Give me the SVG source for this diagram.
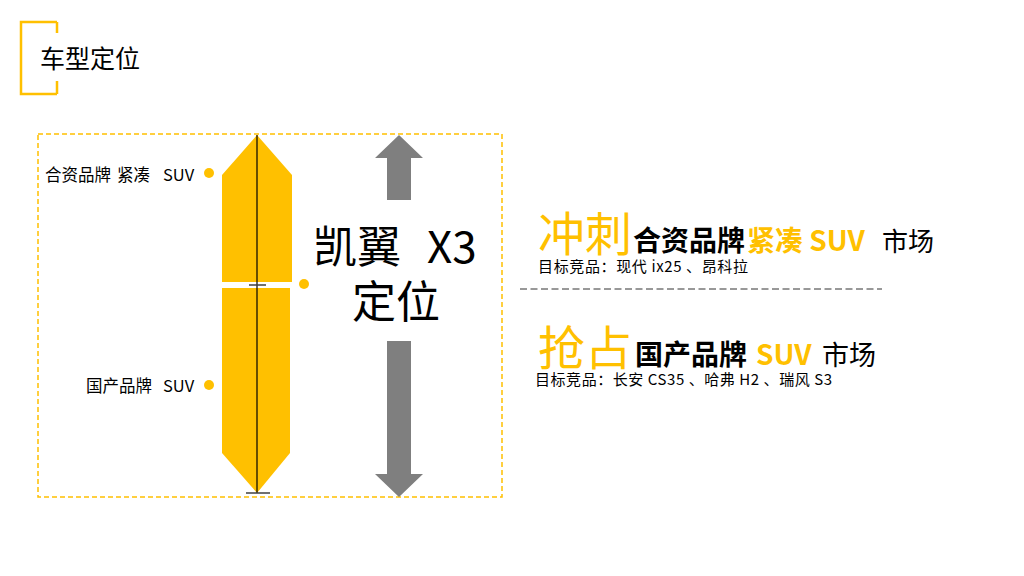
<svg xmlns="http://www.w3.org/2000/svg" width="1024" height="576" viewBox="0 0 1024 576">
<style>
text{font-family:"Noto Sans CJK SC","Microsoft YaHei",sans-serif;}
.y{fill:#FFC000;}
.k{fill:#000;}
.dot{fill:#FFC000;}
.arr{fill:#7F7F7F;}
</style>
<rect width="1024" height="576" fill="#fff"/>
<g id="title">
<path d="M57,22 H21 V94 H57 M57,22 V33 M57,94 V81" fill="none" stroke="#FFC000" stroke-width="2.5"/>
<text x="40" y="68" font-size="25" class="k">车型定位</text>
</g>
<g id="frame">
<rect x="38" y="134" width="464" height="363" fill="none" stroke="#FFC000" stroke-width="1.5" stroke-dasharray="5 3"/>
</g>
<g id="pillar">
<polygon points="257,135 292,175 292,282 222,282 222,175" fill="#FFC000"/>
<polygon points="222,288 290,288 290,453 257,493 222,453" fill="#FFC000"/>
<line x1="257" y1="135" x2="257" y2="493" stroke="#000" stroke-width="1.2"/>
<line x1="249" y1="285" x2="266" y2="285" stroke="#404040" stroke-width="1.5"/>
<line x1="246" y1="493" x2="270" y2="493" stroke="#404040" stroke-width="1.5"/>
</g>
<g id="label-jv">
<circle cx="209" cy="173" r="5" class="dot"/>
<text y="181" font-size="16.5" class="k"><tspan x="45">合资品牌</tspan><tspan x="117">紧凑</tspan><tspan x="163">SUV</tspan></text>
</g>
<g id="label-dom">
<circle cx="209" cy="385" r="5" class="dot"/>
<text y="392" font-size="16.5" class="k"><tspan x="86">国产品牌</tspan><tspan x="163">SUV</tspan></text>
</g>
<g id="center">
<circle cx="304" cy="284" r="5" class="dot"/>
<text font-size="44" class="k"><tspan x="313" y="263">凯翼</tspan><tspan x="427" y="263">X3</tspan><tspan x="352" y="318">定位</tspan></text>
</g>
<g id="arrows">
<polygon class="arr" points="399,135 423,158 411,158 411,200 387,200 387,158 375,158"/>
<polygon class="arr" points="387,341 411,341 411,474 423,474 399,497 375,474 387,474"/>
</g>
<g id="target1">
<text y="251"><tspan x="538" font-size="47" class="y">冲刺</tspan><tspan x="633" font-size="28" font-weight="bold" class="k">合资品牌</tspan><tspan x="747" font-size="28" font-weight="bold" class="y">紧凑 SUV</tspan><tspan x="882" font-size="26" class="k">市场</tspan></text>
<text x="538" y="272" font-size="15" class="k" textLength="210" lengthAdjust="spacing">目标竞品：现代 ix25 、昂科拉</text>
</g>
<g id="divider">
<line x1="520" y1="289" x2="882" y2="289" stroke="#333" stroke-width="1" stroke-dasharray="7 3.5"/>
</g>
<g id="target2">
<text y="365"><tspan x="538" font-size="47" class="y">抢占</tspan><tspan x="635" font-size="28" font-weight="bold" class="k">国产品牌</tspan><tspan x="756" font-size="28" font-weight="bold" class="y">SUV</tspan><tspan x="822" font-size="27" class="k">市场</tspan></text>
<text x="535" y="385" font-size="15" class="k" textLength="297" lengthAdjust="spacing">目标竞品：长安 CS35 、哈弗 H2 、瑞风 S3</text>
</g>
</svg>
